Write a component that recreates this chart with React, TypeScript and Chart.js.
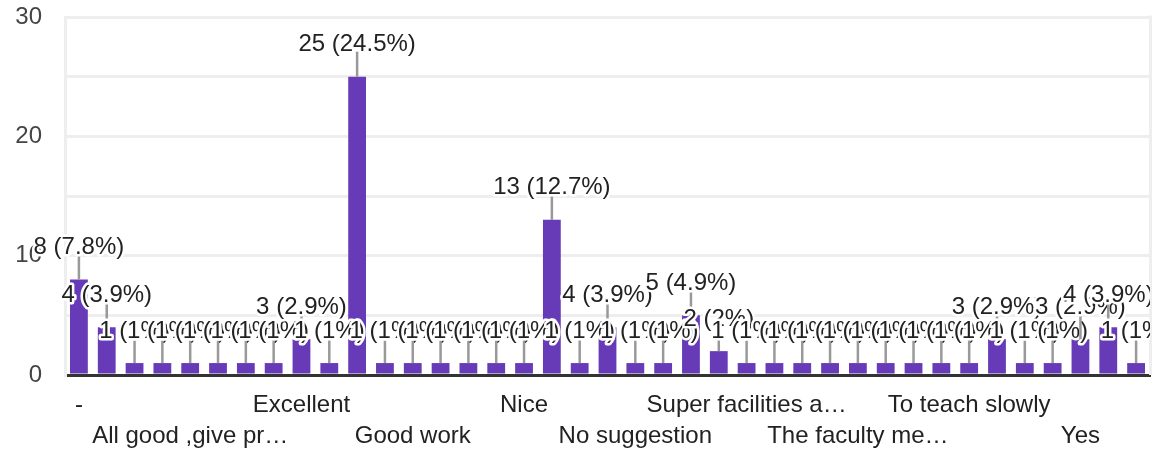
import { useEffect, useRef } from 'react';
import { Chart, registerables } from 'chart.js';

Chart.register(...registerables);

// ---- data ----
const CATEGORIES: string[] = [
  '-',
  '.',
  'Adequate',
  'All faculty are good',
  'All good ,give pr…',
  'All is well',
  'Best',
  'Everything is good',
  'Excellent',
  'Fine',
  'Good',
  'Good job',
  'Good work',
  'Improve labs',
  'Keep it up',
  'More practicals',
  'Nice',
  'No',
  'No comment',
  'No comments',
  'No suggestion',
  'No suggestions',
  'Nothing',
  'Ok',
  'Super facilities a…',
  'Superb',
  'Teaching is good',
  'Thank you',
  'The faculty me…',
  'The teaching is…',
  'Time management',
  'To improve sports',
  'To teach slowly',
  'Very good',
  'Very nice',
  'Well done',
  'Yes',
  'good',
  'nothing',
];

const RESPONSES: number[] = [
  8, 4, 1, 1, 1, 1, 1, 1, 3, 1,
  25, 1, 1, 1, 1, 1, 1, 13, 1, 4,
  1, 1, 5, 2, 1, 1, 1, 1, 1, 1,
  1, 1, 1, 3, 1, 1, 3, 4, 1,
];

const TOTAL_RESPONSES = 102;
const Y_MIN = 0;
const Y_MAX = 30;
const Y_STEP = 5;
const Y_LABEL_STEP = 10;
const X_LABEL_EVERY = 4;

const FONT_FAMILY = '"Liberation Sans", Arial, Helvetica, sans-serif';
const BAR_COLOR = '#673ab7';

function annotationText(v: number): string {
  const pct = Math.round((v / TOTAL_RESPONSES) * 1000) / 10;
  return `${v} (${pct}%)`;
}

const annotationPlugin = {
  id: 'barAnnotations',
  beforeDatasetsDraw(chart: any) {
    const { ctx, chartArea } = chart;
    ctx.save();
    ctx.strokeStyle = '#eeeeee';
    ctx.lineWidth = 3;
    ctx.beginPath();
    ctx.moveTo(chartArea.right + 0.5, chartArea.top - 1.5);
    ctx.lineTo(chartArea.right + 0.5, chartArea.bottom);
    ctx.stroke();
    ctx.restore();
  },
  afterDraw(chart: any) {
    const { ctx, chartArea } = chart;
    const meta = chart.getDatasetMeta(0);
    const stem = 25;
    ctx.save();
    ctx.beginPath();
    ctx.rect(0, 0, chartArea.right, chart.height);
    ctx.clip();
    ctx.font = `24px ${FONT_FAMILY}`;
    ctx.textAlign = 'center';
    ctx.textBaseline = 'alphabetic';
    ctx.lineJoin = 'round';
    meta.data.forEach((bar: any, i: number) => {
      const { x, y } = bar.getProps(['x', 'y'], true);
      const text = annotationText(RESPONSES[i]);
      ctx.strokeStyle = '#999999';
      ctx.lineWidth = 2.5;
      ctx.beginPath();
      ctx.moveTo(x, y);
      ctx.lineTo(x, y - stem);
      ctx.stroke();
      ctx.strokeStyle = '#ffffff';
      ctx.lineWidth = 5;
      ctx.strokeText(text, x, y - stem - 0.5);
      ctx.fillStyle = '#222222';
      ctx.fillText(text, x, y - stem - 0.5);
    });
    ctx.restore();
  },
};

export default function App() {
  const canvasRef = useRef<HTMLCanvasElement | null>(null);

  useEffect(() => {
    document.body.style.margin = '0';
    const canvas = canvasRef.current;
    if (!canvas) return;
    const chart = new Chart(canvas, {
      type: 'bar',
      data: {
        labels: CATEGORIES,
        datasets: [
          {
            data: RESPONSES,
            backgroundColor: BAR_COLOR,
            borderWidth: 0,
            categoryPercentage: 1,
            barPercentage: 0.64,
          },
        ],
      },
      options: {
        animation: false,
        responsive: false,
        devicePixelRatio: 1,
        layout: { padding: { top: 0, right: 10, bottom: 0, left: 0 } },
        plugins: {
          legend: { display: false },
          tooltip: { enabled: false },
        },
        scales: {
          x: {
            grid: { display: false },
            border: { display: true, color: '#333333', width: 3 },
            ticks: {
              autoSkip: false,
              maxRotation: 0,
              minRotation: 0,
              padding: 7,
              color: '#222222',
              font: { family: FONT_FAMILY, size: 24, lineHeight: 1.3 },
              callback: (_v: any, index: number) => {
                if (index % X_LABEL_EVERY !== 0) return '';
                const row = (index / X_LABEL_EVERY) % 2;
                const name = CATEGORIES[index];
                return row === 0 ? name : ['', name];
              },
            },
            afterFit: (scale: any) => {
              scale.height = 77;
            },
          },
          y: {
            min: Y_MIN,
            max: Y_MAX,
            grid: { color: '#eeeeee', lineWidth: 3, drawTicks: false },
            border: { display: true, color: '#eeeeee', width: 3 },
            ticks: {
              stepSize: Y_STEP,
              padding: 23,
              color: '#444444',
              font: { family: FONT_FAMILY, size: 24 },
              callback: (v: any) => (Number(v) % Y_LABEL_STEP === 0 ? String(v) : ''),
            },
            afterFit: (scale: any) => {
              scale.width = 65;
              scale.paddingTop = 17;
              scale.paddingBottom = 0;
            },
          },
        },
      },
      plugins: [annotationPlugin],
    });
    return () => chart.destroy();
  }, []);

  return (
    <div style={{ width: 1160, height: 452, position: 'relative' }}>
      <canvas ref={canvasRef} width={1160} height={452} style={{ display: 'block' }} />
    </div>
  );
}
